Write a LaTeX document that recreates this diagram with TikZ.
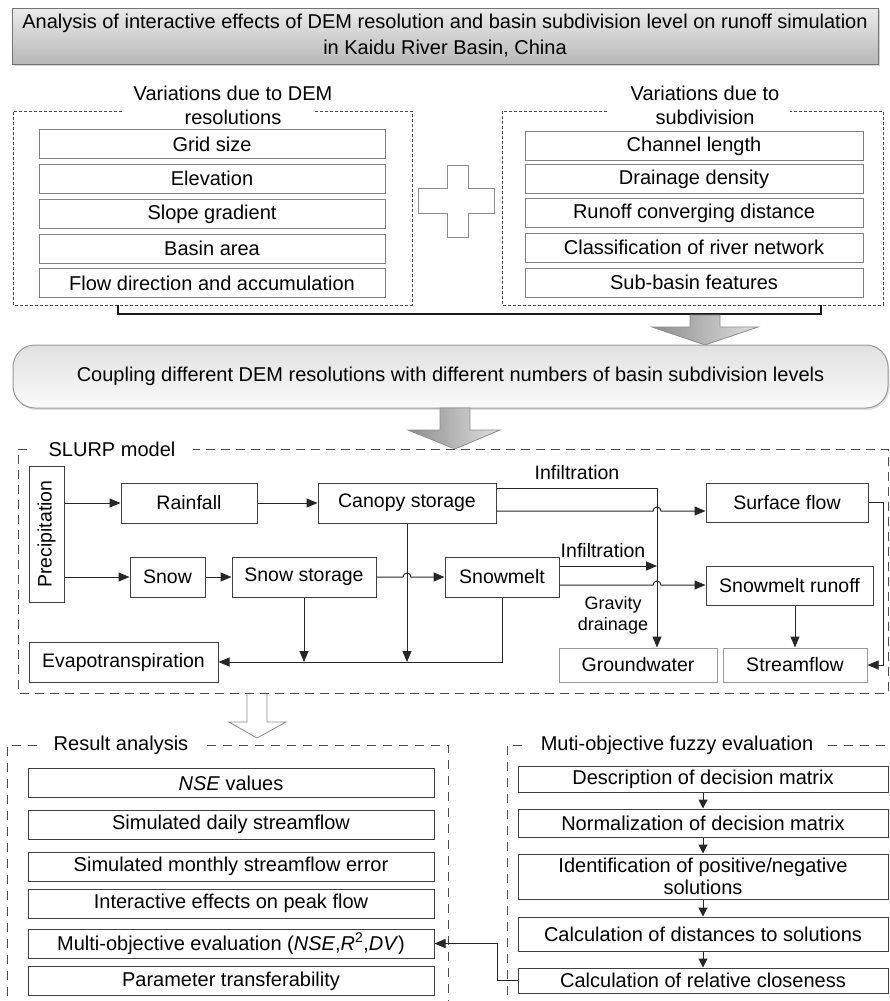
\documentclass[tikz,border=0pt]{standalone}
\usepackage{fontspec}
\setmainfont{Liberation Sans}
\usetikzlibrary{arrows.meta,shadows}
\begin{document}
\begin{tikzpicture}[x=1pt,y=1pt,
  f20/.style={font=\fontsize{20}{24}\selectfont},
  f19/.style={font=\fontsize{19.5}{23}\selectfont},
  topbox/.style={draw=black!50, line width=1pt, fill=white, minimum height=29pt, inner sep=0pt, f20},
  lbox/.style={topbox, minimum width=346pt},
  rbox/.style={topbox, minimum width=338pt},
  mbox/.style={draw=black!75, line width=1pt, fill=white, inner sep=0pt, minimum height=40pt, f19},
  gbox/.style={mbox, draw=black!40, minimum height=34pt},
  resbox/.style={draw=black!75, line width=1pt, fill=white, inner sep=0pt, minimum width=406pt, minimum height=29pt, f20},
  mobox/.style={draw=black!75, line width=1pt, fill=white, inner sep=0pt, minimum width=370pt, f20},
  fdash/.style={draw=black!70, line width=0.8pt, dash pattern=on 3pt off 2pt},
  ldash/.style={draw=black!70, line width=1pt, dash pattern=on 9pt off 6pt},
  conn/.style={draw=black!85, line width=1pt},
  arr/.style={conn, -{Triangle[length=11pt,width=9pt]}},
  sarr/.style={conn, -{Triangle[length=9pt,width=9pt]}},
  garrow/.style={draw=black!45, line width=0.8pt, left color=black!45, right color=black!12},
  lbl/.style={f20, inner sep=1pt}
]
\useasboundingbox (0,0) rectangle (890,-1001);

% ---------- title ----------
\node[draw=black!55, line width=1pt, top color=black!8, bottom color=black!28,
      drop shadow={opacity=0.35, shadow xshift=2pt, shadow yshift=-2pt},
      minimum width=866pt, minimum height=56pt, align=center,
      font=\fontsize{20}{26}\selectfont] (title) at (445,-36)
  {Analysis of interactive effects of DEM resolution and basin subdivision level on runoff simulation\\in Kaidu River Basin, China};

% ---------- variations due to DEM ----------
\draw[fdash] (122,-111) -- (13,-111) -- (13,-305) -- (412,-305) -- (412,-111) -- (313,-111);
\node[lbl, align=center] (demt) at (233,-105) {Variations due to DEM\\resolutions};
\node[lbox] (d1) at (212,-144) {Grid size};
\node[lbox] (d2) at (212,-178.5) {Elevation};
\node[lbox] (d3) at (212,-214) {Slope gradient};
\node[lbox] (d4) at (212,-248.5) {Basin area};
\node[lbox] (d5) at (212,-283) {Flow direction and accumulation};

% ---------- plus ----------
\draw[draw=black!45, line width=0.8pt, fill=white]
  (447,-165) -- (468,-165) -- (468,-188) -- (494,-188) -- (494,-213) -- (468,-213)
  -- (468,-237) -- (447,-237) -- (447,-213) -- (418,-213) -- (418,-188) -- (447,-188) -- cycle;

% ---------- variations due to subdivision ----------
\draw[fdash] (607,-111) -- (502,-111) -- (502,-305) -- (883,-305) -- (883,-111) -- (790,-111);
\node[lbl, align=center] (subt) at (705,-105) {Variations due to\\subdivision};
\node[rbox] (s1) at (694,-146) {Channel length};
\node[rbox] (s2) at (694,-179) {Drainage density};
\node[rbox] (s3) at (694,-213) {Runoff converging distance};
\node[rbox] (s4) at (694,-247.5) {Classification of river network};
\node[rbox] (s5) at (694,-282.5) {Sub-basin features};

% bracket
\coordinate (bl) at (118,-305);
\coordinate (br) at (821,-305);
\draw[line width=1.8pt, black!90] (bl) -- ++(0,-9) -| (br);

% gray arrow 1
\path[garrow] (690,-315) -- (690,-327) -- (652,-327) -- (705,-345) -- (758,-327) -- (720,-327) -- (720,-315) -- cycle;

% ---------- coupling ----------
\node[draw=black!40, line width=1pt, rounded corners=22pt, top color=black!12, bottom color=black!2,
      drop shadow={opacity=0.25, shadow xshift=1.5pt, shadow yshift=-2pt},
      minimum width=875pt, minimum height=63pt, f20] (coup) at (450.5,-376.5)
  {Coupling different DEM resolutions with different numbers of basin subdivision levels};

% gray arrow 2
\path[garrow] (440,-408) -- (440,-430) -- (408,-430) -- (455,-449) -- (500,-430) -- (470,-430) -- (470,-408) -- cycle;

% ---------- SLURP model ----------
\draw[ldash] (27,-449) -- (18,-449) -- (18,-693) -- (888,-693) -- (888,-449) -- (193,-449);
\node[lbl] (slurp) at (112,-449) {SLURP model};

\node[mbox, rotate=90, minimum width=136pt, minimum height=35pt] (prec) at (46.5,-534) {Precipitation};
\node[mbox, minimum width=136pt] (rain) at (189,-503) {Rainfall};
\node[mbox, minimum width=178pt] (canopy) at (407,-503) {Canopy storage};
\node[mbox, minimum width=162pt, minimum height=39pt] (surf) at (787,-502.5) {Surface flow};
\node[mbox, minimum width=75pt] (snow) at (167.5,-577) {Snow};
\node[mbox, minimum width=144pt] (snowst) at (304,-577) {Snow storage};
\node[mbox, minimum width=114pt] (snowmelt) at (502,-577) {Snowmelt};
\node[mbox, minimum width=167pt, minimum height=39pt] (smrun) at (789.5,-585.5) {Snowmelt runoff};
\node[mbox, minimum width=189pt] (evap) at (123.5,-662) {Evapotranspiration};
\node[gbox, minimum width=158pt] (gw) at (638,-665) {Groundwater};
\node[gbox, minimum width=144pt] (sf) at (795,-665) {Streamflow};

\node[lbl, f19] (inf1) at (577,-473) {Infiltration};
\node[lbl, f19] (inf2) at (603,-551) {Infiltration};
\node[align=center, inner sep=1pt, font=\fontsize{18}{21}\selectfont] (grav) at (613,-615) {Gravity\\drainage};

\coordinate (yA) at (0,-488);
\coordinate (yB) at (0,-511);
\coordinate (yC) at (0,-566);
\coordinate (yD) at (0,-585);
\coordinate (yE) at (0,-662);
\coordinate (xV) at (657,0);
\coordinate (xR) at (883,0);

\draw[arr] (prec.south |- rain.west) -- (rain.west);
\draw[arr] (prec.south |- snow.west) -- (snow.west);
\draw[arr] (rain.east) -- (canopy.west);
\draw[arr] (snow.east) -- (snowst.west);
\draw[arr] (snowst.east) -- (403,-577) arc[start angle=180, end angle=0, radius=4] -- (snowmelt.west);
\draw[arr] (canopy.east |- yA) -- (xV |- yA) -- (xV |- gw.north);
\draw[arr] (canopy.east |- yB) -- (653,-511) arc[start angle=180, end angle=0, radius=4] -- (surf.west |- yB);
\draw[arr] (snowmelt.east |- yC) -- (xV |- yC);
\draw[arr] (snowmelt.east |- yD) -- (653,-585) arc[start angle=180, end angle=0, radius=4] -- (smrun.west |- yD);
\draw[arr] (surf.east) -- (xR |- surf.east) -- (xR |- sf.east) -- (sf.east);
\draw[arr] (smrun.south -| sf.north) -- (sf.north);
\draw[arr] (canopy.south) -- (canopy.south |- yE);
\draw[arr] (snowst.south) -- (snowst.south |- yE);
\draw[arr] (snowmelt.south) -- (snowmelt.south |- yE) -- (evap.east);

% hollow arrow
\draw[draw=black!45, line width=0.8pt, fill=white]
  (247,-694) -- (247,-722) -- (229,-722) -- (257,-738) -- (286,-722) -- (267,-722) -- (267,-694);

% ---------- Result analysis ----------
\draw[ldash, dash pattern=on 9pt off 7pt] (37,-745) -- (7,-745) -- (7,-1001);
\draw[ldash, dash pattern=on 9pt off 7pt] (207,-745) -- (448,-745) -- (448,-1001);
\node[lbl] (rest) at (121,-745) {Result analysis};
\node[resbox] (r1) at (231,-783) {\textit{NSE} values};
\node[resbox] (r2) at (231,-824.5) {Simulated daily streamflow};
\node[resbox] (r3) at (231,-866.5) {Simulated monthly streamflow error};
\node[resbox] (r4) at (231,-903.5) {Interactive effects on peak flow};
\node[resbox] (r5) at (231,-943.5) {Multi-objective evaluation (\textit{NSE},\textit{R}\textsuperscript{2},\textit{DV})};
\node[resbox] (r6) at (231,-981) {Parameter transferability};

% ---------- Muti-objective ----------
\draw[ldash, dash pattern=on 9pt off 7pt] (522,-745) -- (507,-745) -- (507,-1001);
\draw[ldash, dash pattern=on 9pt off 7pt] (828,-745) -- (892,-745);
\node[lbl] (mut) at (677,-745) {Muti-objective fuzzy evaluation};
\node[mobox, minimum height=26pt] (m1) at (703,-779) {Description of decision matrix};
\node[mobox, minimum height=28pt] (m2) at (703,-823) {Normalization of decision matrix};
\node[mobox, minimum height=45pt, align=center, font=\fontsize{20}{22}\selectfont] (m3) at (703,-876.5) {Identification of positive/negative\\solutions};
\node[mobox, minimum height=34pt] (m4) at (703,-934) {Calculation of distances to solutions};
\node[mobox, minimum height=25pt] (m5) at (703,-980.5) {Calculation of relative closeness};

\draw[sarr] (m1.south) -- (m2.north);
\draw[sarr] (m2.south) -- (m3.north);
\draw[sarr] (m3.south) -- (m4.north);
\draw[sarr] (m4.south) -- (m5.north);

\coordinate (xL) at (497,0);
\draw[arr] (m5.west) -- (xL |- m5.west) -- (xL |- r5.east) -- (r5.east);
\end{tikzpicture}
\end{document}
